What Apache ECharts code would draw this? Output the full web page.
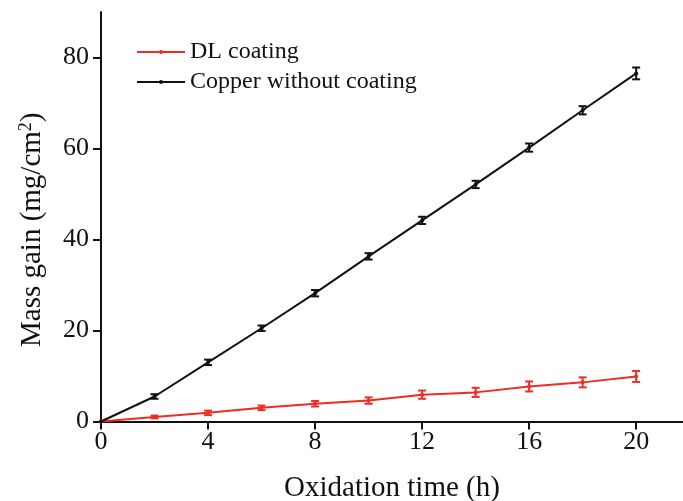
<!DOCTYPE html>
<html>
<head>
<meta charset="utf-8">
<title>Mass gain vs oxidation time</title>
<script src="https://cdn.jsdelivr.net/npm/echarts@6/dist/echarts.min.js"></script>
<style>
  html, body { margin: 0; padding: 0; background: #fff; }
  #chart { width: 683px; height: 501px; }
</style>
</head>
<body>
<div id="chart"></div>
<script>
const times = [0, 2, 4, 6, 8, 10, 12, 14, 16, 18, 20]
const dlCoating = [0, 1.0, 1.9, 3.0, 3.9, 4.6, 5.9, 6.4, 7.7, 8.6, 9.9]
const dlError = [0, 0.3, 0.5, 0.5, 0.6, 0.7, 0.9, 1.0, 1.1, 1.1, 1.2]
const copper = [0, 5.5, 13.0, 20.5, 28.2, 36.3, 44.2, 52.1, 60.2, 68.4, 76.5]
const copperError = [0, 0.5, 0.6, 0.6, 0.7, 0.7, 0.8, 0.8, 0.9, 0.9, 1.3]
const xTicks = [0, 4, 8, 12, 16, 20]
const yTicks = [0, 20, 40, 60, 80]

const FONT = '"Liberation Serif", "Times New Roman", serif'
const RED = '#ee2b24'
const BLACK = '#111111'

const pairs = (ys) => times.map((t, i) => [t, ys[i]])
const withErr = (ys, errs) => times.map((t, i) => [t, ys[i], errs[i]])

// error bars with caps
const errorBars = (name, data, color) => ({
  name,
  type: 'custom',
  data,
  z: 3,
  renderItem: (params, api) => {
    const x = api.value(0)
    const y = api.value(1)
    const e = api.value(2)
    if (!e) return null
    const top = api.coord([x, y + e])
    const bot = api.coord([x, y - e])
    const half = 4
    const style = { stroke: color, lineWidth: 2 }
    return {
      type: 'group',
      children: [
        { type: 'line', shape: { x1: top[0], y1: top[1], x2: bot[0], y2: bot[1] }, style },
        { type: 'line', shape: { x1: top[0] - half, y1: top[1], x2: top[0] + half, y2: top[1] }, style },
        { type: 'line', shape: { x1: bot[0] - half, y1: bot[1], x2: bot[0] + half, y2: bot[1] }, style },
      ],
    }
  },
})

const chart = echarts.init(document.getElementById('chart'))
chart.setOption({
  animation: false,
  backgroundColor: '#fff',
  textStyle: { fontFamily: FONT, color: '#111' },
  grid: { left: 101, right: 0, top: 12, bottom: 79.5, outerBoundsMode: 'none', containLabel: false },
  legend: {
    data: ['DL coating', 'Copper without coating'],
    orient: 'vertical',
    left: 136,
    top: 40,
    padding: 0,
    itemWidth: 48,
    itemHeight: 5,
    itemGap: 6,
    textStyle: { fontFamily: FONT, fontSize: 24, color: '#111', lineHeight: 24 },
  },
  xAxis: {
    type: 'value',
    min: 0,
    max: 21.75,
    interval: 4,
    name: 'Oxidation time (h)',
    nameLocation: 'middle',
    nameGap: 52,
    nameTextStyle: { fontFamily: FONT, fontSize: 29, color: '#111' },
    axisLine: { lineStyle: { color: BLACK, width: 2 } },
    axisTick: { customValues: xTicks, length: 8, lineStyle: { color: BLACK, width: 2 } },
    axisLabel: { customValues: xTicks, margin: 8, fontFamily: FONT, fontSize: 26, color: '#111' },
    splitLine: { show: false },
  },
  yAxis: {
    type: 'value',
    min: 0,
    max: 90,
    interval: 10,
    name: 'Mass gain (mg/cm{sup|2})',
    nameLocation: 'middle',
    nameRotate: 90,
    nameGap: 54,
    nameTextStyle: {
      fontFamily: FONT,
      fontSize: 29,
      color: '#111',
      padding: [0, 26, 0, 0],
      rich: {
        sup: { fontFamily: FONT, fontSize: 18, color: '#111', verticalAlign: 'top', padding: [0, 0, 12, 0] },
      },
    },
    axisLine: { lineStyle: { color: BLACK, width: 2 } },
    axisTick: { customValues: yTicks, length: 8, lineStyle: { color: BLACK, width: 2 } },
    axisLabel: { customValues: yTicks, margin: 12, fontFamily: FONT, fontSize: 26, color: '#111' },
    splitLine: { show: false },
  },
  series: [
    {
      name: 'DL coating',
      type: 'line',
      data: pairs(dlCoating),
      symbol: 'circle',
      symbolSize: 4,
      color: RED,
      lineStyle: { width: 2, color: RED },
      z: 4,
    },
    {
      name: 'Copper without coating',
      type: 'line',
      data: pairs(copper),
      symbol: 'circle',
      symbolSize: 4,
      color: BLACK,
      lineStyle: { width: 2, color: BLACK },
      z: 4,
    },
    errorBars('DL error', withErr(dlCoating, dlError), RED),
    errorBars('Copper error', withErr(copper, copperError), BLACK),
  ],
})
</script>
</body>
</html>
